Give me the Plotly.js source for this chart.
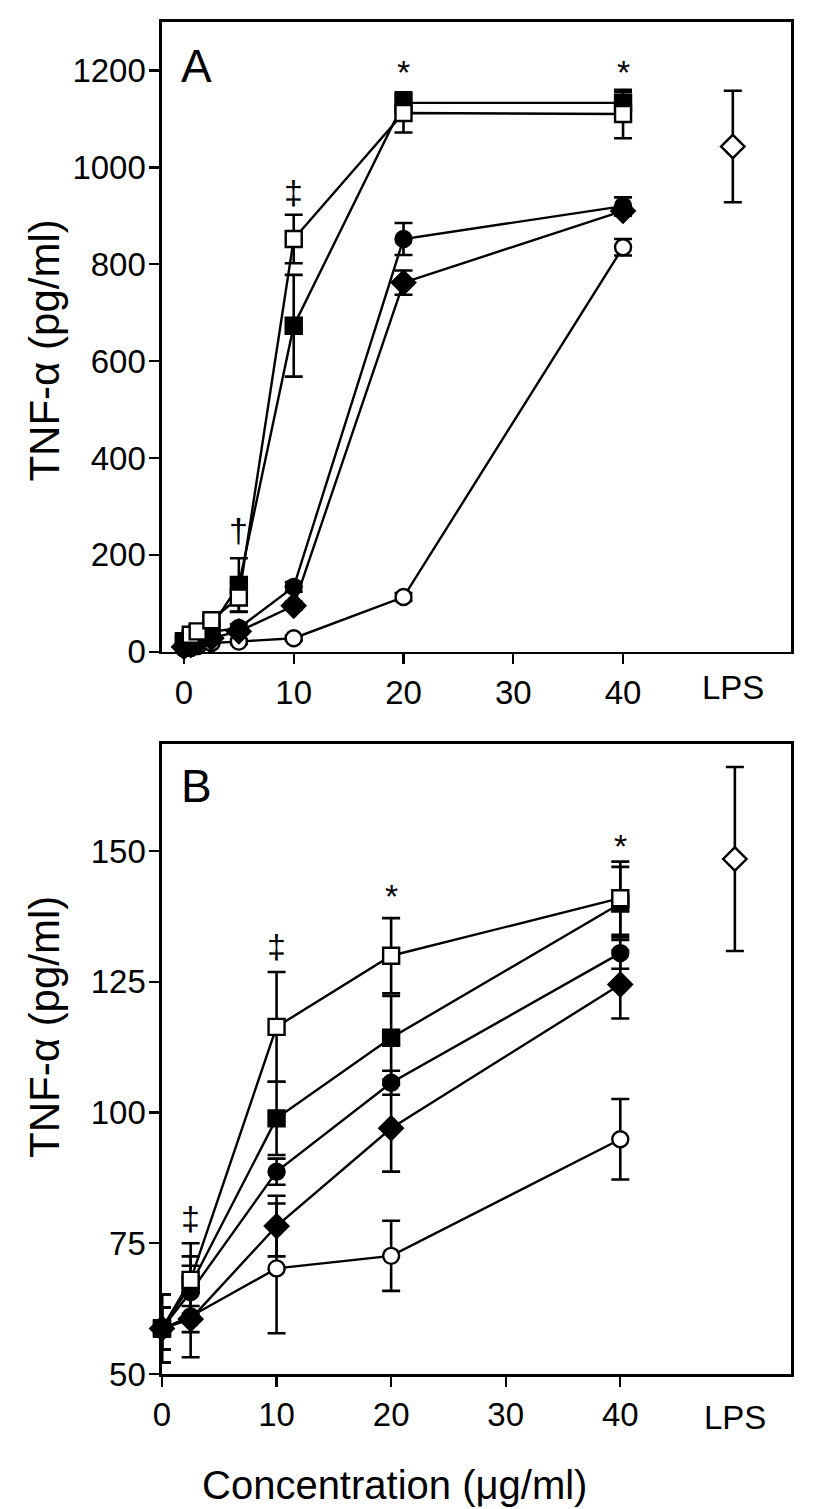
<!DOCTYPE html>
<html>
<head>
<meta charset="utf-8">
<script src="https://cdn.plot.ly/plotly-3.0.1.min.js"></script>
<style>html,body{margin:0;padding:0;background:#fff;}#chart{width:831px;height:1509px;}</style>
</head>
<body>
<div id="chart"></div>
<script>
// ---------- Panel A data ----------
const xA = [0, 0.625, 1.25, 2.5, 5, 10, 20, 40];
const aFilledSquare = [18, 28, 38, 52, 138, 673, 1133, 1133];
const aFilledSquareErr = [6, 8, 8, 10, 55, 105, 22, 22];
const aOpenSquare = [22, 35, 42, 65, 112, 852, 1112, 1110];
const aOpenSquareErr = [6, 6, 8, 10, 30, 50, 40, 50];
const aFilledCircle = [12, 18, 25, 41, 49, 134, 852, 920];
const aFilledCircleErr = [3, 3, 5, 5, 8, 10, 33, 18];
const aFilledDiamond = [10, 14, 20, 28, 42, 95, 762, 910];
const aFilledDiamondErr = [3, 3, 3, 5, 5, 8, 25, 10];
const aOpenCircle = [6, 8, 12, 18, 21, 28, 113, 835];
const aOpenCircleErr = [2, 2, 3, 3, 5, 5, 8, 17];
const aLPS = [1043];
const aLPSErr = [115];

// ---------- Panel B data ----------
const xB = [0, 2.5, 10, 20, 40];
const bOpenSquare = [58.7, 68, 116.4, 130, 141];
const bOpenSquareErr = [4, 7, 10.5, 7.2, 7];
const bFilledSquare = [58.7, 67, 98.9, 114.3, 140];
const bFilledSquareErr = [4, 5.5, 7, 8, 7];
const bFilledCircle = [58.7, 65.7, 88.7, 105.7, 130.5];
const bFilledCircleErr = [6.5, 5, 2.5, 2.3, 3];
const bFilledDiamond = [58.7, 60.5, 78.3, 97, 124.5];
const bFilledDiamondErr = [4, 2.5, 5.8, 8.3, 6.5];
const bOpenCircle = [58.7, 61, 70.2, 72.6, 94.9];
const bOpenCircleErr = [6.5, 7.8, 12.4, 6.7, 7.7];
const bLPS = [148.5];
const bLPSErr = [17.6];

const lpsX = [50];

// ---------- tick labels & significance marks ----------
const xTickVals = [0, 10, 20, 30, 40];
const xTickText = ['0', '10', '20', '30', '40'];
const lpsLabel = 'LPS';
const aYTicks = [0, 200, 400, 600, 800, 1000, 1200];
const bYTicks = [50, 75, 100, 125, 150];
const aMarkX = [5, 10, 20, 40];
const aMarkY = [252, 950, 1196, 1196];
const aMarkText = ['†', '‡', '*', '*'];
const bMarkX = [2.5, 10, 20, 40];
const bMarkY = [79.9, 131.9, 141.5, 151];
const bMarkText = ['‡', '‡', '*', '*'];

const FONT = 'Liberation Sans, Arial, sans-serif';
const BLACK = '#000';
const WHITE = '#fff';

function series(x, y, err, symbol, fill, xa, ya, showLine) {
  return {
    x: x, y: y, xaxis: xa, yaxis: ya,
    type: 'scatter',
    mode: showLine ? 'lines+markers' : 'markers',
    cliponaxis: false,
    line: {color: BLACK, width: 2.4},
    marker: {
      symbol: symbol,
      size: symbol === 'diamond' ? 18 : 16,
      color: fill,
      line: {color: BLACK, width: 2.4}
    },
    error_y: {type: 'data', array: err, visible: true, color: BLACK, thickness: 2.6, width: 9},
    showlegend: false,
    hoverinfo: 'x+y'
  };
}

// the shared control point (x = 0) is drawn as a filled square in both panels
const aOpenSquareFill = xA.map((x) => x === 0 ? BLACK : WHITE);
const bOpenSquareFill = xB.map((x) => x === 0 ? BLACK : WHITE);

const data = [
  series(xA, aOpenCircle, aOpenCircleErr, 'circle', WHITE, 'x', 'y', true),
  series(xA, aFilledDiamond, aFilledDiamondErr, 'diamond', BLACK, 'x', 'y', true),
  series(xA, aFilledCircle, aFilledCircleErr, 'circle', BLACK, 'x', 'y', true),
  series(xA, aFilledSquare, aFilledSquareErr, 'square', BLACK, 'x', 'y', true),
  series(xA, aOpenSquare, aOpenSquareErr, 'square', aOpenSquareFill, 'x', 'y', true),
  series(lpsX, aLPS, aLPSErr, 'diamond', WHITE, 'x', 'y', false),

  series(xB, bOpenCircle, bOpenCircleErr, 'circle', WHITE, 'x2', 'y2', true),
  series(xB, bFilledDiamond, bFilledDiamondErr, 'diamond', BLACK, 'x2', 'y2', true),
  series(xB, bFilledCircle, bFilledCircleErr, 'circle', BLACK, 'x2', 'y2', true),
  series(xB, bFilledSquare, bFilledSquareErr, 'square', BLACK, 'x2', 'y2', true),
  series(xB, bOpenSquare, bOpenSquareErr, 'square', bOpenSquareFill, 'x2', 'y2', true),
  series(lpsX, bLPS, bLPSErr, 'diamond', WHITE, 'x2', 'y2', false)
];

const TICKSIZE = 33;
const axisCommon = {
  showline: true, linecolor: BLACK, linewidth: 2.6, mirror: true,
  ticks: 'outside', ticklen: 10, tickwidth: 2.4, tickcolor: BLACK,
  showgrid: false, zeroline: false,
  tickfont: {family: FONT, size: TICKSIZE, color: BLACK}
};

const annotations = [];
aMarkX.forEach((x, i) => annotations.push({
  x: x, y: aMarkY[i], xref: 'x', yref: 'y', text: aMarkText[i], showarrow: false,
  font: {family: FONT, size: 34, color: BLACK}, xanchor: 'center', yanchor: 'middle'
}));
bMarkX.forEach((x, i) => annotations.push({
  x: x, y: bMarkY[i], xref: 'x2', yref: 'y2', text: bMarkText[i], showarrow: false,
  font: {family: FONT, size: 34, color: BLACK}, xanchor: 'center', yanchor: 'middle'
}));
// LPS tick labels (no tick mark)
annotations.push({x: lpsX[0], y: 0.5074, xref: 'x', yref: 'paper', text: lpsLabel, showarrow: false,
  font: {family: FONT, size: TICKSIZE, color: BLACK}, xanchor: 'center', yanchor: 'middle'});
annotations.push({x: lpsX[0], y: -0.0325, xref: 'x2', yref: 'paper', text: lpsLabel, showarrow: false,
  font: {family: FONT, size: TICKSIZE, color: BLACK}, xanchor: 'center', yanchor: 'middle'});
// Panel letters
annotations.push({x: 0.027, y: 0.9675, xref: 'paper', yref: 'paper', text: 'A', showarrow: false,
  font: {family: FONT, size: 46, color: BLACK}, xanchor: 'left', yanchor: 'middle'});
annotations.push({x: 0.027, y: 0.435, xref: 'paper', yref: 'paper', text: 'B', showarrow: false,
  font: {family: FONT, size: 46, color: BLACK}, xanchor: 'left', yanchor: 'middle'});
// Axis titles
annotations.push({x: -0.186, y: 0.757, xref: 'paper', yref: 'paper', text: 'TNF-α (pg/ml)', showarrow: false,
  textangle: -90, font: {family: FONT, size: 42, color: BLACK}, xanchor: 'center', yanchor: 'middle'});
annotations.push({x: -0.186, y: 0.2567, xref: 'paper', yref: 'paper', text: 'TNF-α (pg/ml)', showarrow: false,
  textangle: -90, font: {family: FONT, size: 42, color: BLACK}, xanchor: 'center', yanchor: 'middle'});
annotations.push({x: 0.369, y: -0.0821, xref: 'paper', yref: 'paper', text: 'Concentration (μg/ml)', showarrow: false,
  font: {family: FONT, size: 40, color: BLACK}, xanchor: 'center', yanchor: 'middle'});

const layout = {
  width: 831, height: 1509,
  margin: {l: 162, r: 40, t: 22, b: 135},
  paper_bgcolor: WHITE, plot_bgcolor: WHITE,
  font: {family: FONT, color: BLACK},
  xaxis: Object.assign({}, axisCommon, {domain: [0, 1], range: [-2, 55.3], tickvals: xTickVals, ticktext: xTickText, anchor: 'y'}),
  yaxis: Object.assign({}, axisCommon, {domain: [0.5342, 1], range: [0, 1300], tickvals: aYTicks, anchor: 'x', ticklabelstandoff: -3}),
  xaxis2: Object.assign({}, axisCommon, {domain: [0, 1], range: [0, 54.9], tickvals: xTickVals, ticktext: xTickText, anchor: 'y2'}),
  yaxis2: Object.assign({}, axisCommon, {domain: [0, 0.466], range: [50, 170.5], tickvals: bYTicks, anchor: 'x2', ticklabelstandoff: -3}),
  annotations: annotations
};

Plotly.newPlot('chart', data, layout, {displayModeBar: false, staticPlot: true});
</script>
</body>
</html>
